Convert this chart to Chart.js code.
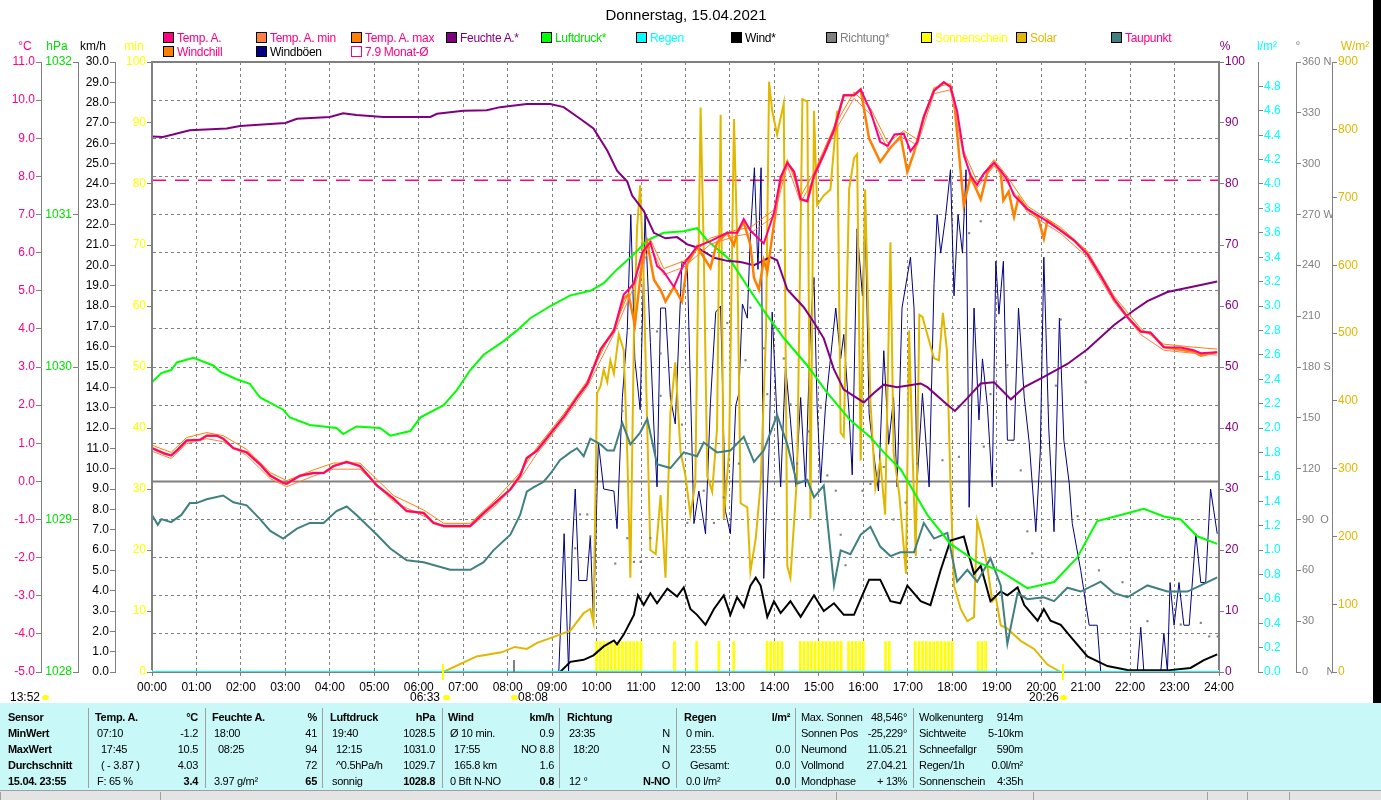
<!DOCTYPE html>
<html>
<head>
<meta charset="utf-8">
<script src="https://cdn.jsdelivr.net/npm/chart.js@4.4.1/dist/chart.umd.min.js"></script>
<style>
  body { margin: 0; width: 1381px; height: 800px; overflow: hidden; background: #fff;
         font-family: 'Liberation Sans', Arial, sans-serif; font-size: 11px; }
  #wrap { position: absolute; left: 0; top: 0; width: 1381px; height: 703px; }
  .t { position: absolute; white-space: nowrap; line-height: 14px; }
  #panel .t { letter-spacing: -0.3px; }
  .lg { position: absolute; white-space: nowrap; line-height: 12px; font-size: 12px; letter-spacing: -0.3px; }
  .lg i { display: inline-block; width: 9px; height: 9px; border: 1px solid #000; vertical-align: -1px; margin-right: 3px; }
  #panel { position: absolute; left: 0; top: 703px; width: 1381px; height: 87px; background: #c8f8f8; }
  #status { position: absolute; left: 0; top: 790px; width: 1381px; height: 10px; background: #e4e4e4; border-top: 1px solid #a0a0a0; }
  .sep { position: absolute; top: 5px; width: 1px; height: 80px; background: #a0a0a0; }
  .box { position: absolute; top: 1px; height: 9px; border-left: 1px solid #a0a0a0; }
  .sun { position: absolute; width: 7px; height: 5px; border-radius: 50%; background: #ffff00; }
  .mark { position: absolute; width: 2px; }
  #black { position: absolute; left: 1373px; top: 0; width: 8px; height: 703px; background: #000; }
</style>
</head>
<body>
<div id="wrap"><canvas id="c" width="1381" height="703"></canvas></div>
<div id="black"></div>
<div id="over"></div>
<div id="panel"></div>
<div id="status"></div>
<script>
// ---- data (hours as decimal) ----
const tempTime = [0, 0.28, 0.43, 0.56, 0.78, 1.08, 1.23, 1.46, 1.6, 1.83,
  2.13, 2.43, 2.66, 2.95, 3.03, 3.33, 3.63, 3.86, 4.08, 4.38,
  4.68, 5.06, 5.43, 5.73, 6.11, 6.33, 6.56, 7.16, 7.46, 7.76,
  8.06, 8.28, 8.43, 8.66, 8.96, 9.26, 9.56, 9.79, 10.09, 10.39,
  10.61, 10.84, 11.03, 11.21, 11.36, 11.51, 11.74, 11.96, 12.26, 12.56,
  12.94, 13.16, 13.31, 13.46, 13.76, 13.99, 14.14, 14.29, 14.44, 14.59,
  14.74, 14.89, 15.11, 15.34, 15.56, 15.79, 15.94, 16.16, 16.38, 16.55,
  16.7, 16.91, 17.06, 17.21, 17.36, 17.59, 17.81, 17.96, 18.11, 18.26,
  18.41, 18.56, 18.71, 18.94, 19.09, 19.24, 19.39, 19.69, 20.06, 20.44,
  20.74, 21.04, 21.34, 21.64, 21.94, 22.24, 22.46, 22.76, 23.14, 23.43,
  23.59, 23.96];
const tempVal = [0.87, 0.73, 0.68, 0.81, 1.07, 1.09, 1.2, 1.2, 1.12, 0.87,
  0.76, 0.45, 0.15, -0.04, -0.06, 0.15, 0.22, 0.22, 0.4, 0.51,
  0.4, -0.11, -0.45, -0.78, -0.83, -1.09, -1.17, -1.17, -0.83, -0.52,
  -0.21, 0.15, 0.61, 0.81, 1.25, 1.69, 2.2, 2.56, 3.46, 3.95,
  4.9, 5.19, 6.01, 6.27, 5.65, 5.5, 5.1, 5.7, 6.16, 6.3,
  6.52, 6.52, 6.88, 6.58, 6.24, 7.04, 7.97, 8.36, 8.12, 7.4,
  7.35, 8.02, 8.58, 9.22, 10.13, 10.13, 10.28, 9.71, 8.9, 8.8,
  9.1, 9.12, 8.66, 8.89, 9.56, 10.25, 10.47, 10.35, 9.71, 8.58,
  8.02, 7.78, 8.07, 8.36, 8.15, 7.91, 7.5, 7.14, 6.88, 6.58,
  6.32, 5.96, 5.39, 4.78, 4.31, 3.93, 3.9, 3.52, 3.51, 3.44,
  3.36, 3.39];

const minMaxTime = [0, 0.43, 0.78, 1.23, 1.6, 2.13, 2.66, 3.03, 3.63, 4.08,
  4.68, 5.43, 6.11, 6.56, 7.16, 7.76, 8.28, 8.66, 9.26, 9.79,
  10.39, 10.84, 11.21, 11.51, 11.96, 12.56, 13.16, 13.46, 13.99, 14.29,
  14.59, 14.89, 15.34, 15.79, 16.16, 16.55, 16.91, 17.21, 17.59, 17.96,
  18.26, 18.56, 18.94, 19.24, 19.69, 20.44, 21.04, 21.64, 22.24, 22.76,
  23.43, 23.96];
const tempMaxVal = [0.95, 0.76, 1.15, 1.28, 1.2, 0.84, 0.23, 0.02, 0.3, 0.48,
  0.48, -0.37, -0.75, -1.1, -1.1, -0.44, 0.23, 0.89, 1.77, 2.64,
  4.03, 5.27, 6.35, 5.58, 5.78, 6.38, 6.6, 6.66, 7.12, 8.44,
  7.48, 8.1, 9.3, 10.21, 9.79, 8.88, 9.2, 8.97, 10.33, 10.43,
  8.66, 7.86, 8.44, 7.99, 7.22, 6.66, 6.04, 4.86, 4.01, 3.6,
  3.52, 3.47];
const tempMinVal = [0.79, 0.6, 0.99, 1.12, 1.04, 0.68, 0.07, -0.14, 0.14, 0.32,
  0.32, -0.53, -0.91, -1.2, -1.2, -0.6, 0.07, 0.73, 1.61, 2.48,
  3.87, 5.11, 6.19, 5.42, 5.62, 6.22, 6.44, 6.5, 6.96, 8.28,
  7.32, 7.94, 9.14, 10.05, 9.63, 8.72, 9.04, 8.81, 10.17, 10.27,
  8.5, 7.7, 8.28, 7.83, 7.06, 6.5, 5.88, 4.7, 3.85, 3.44,
  3.36, 3.31];

const chillTime = [0, 0.28, 0.43, 0.56, 0.78, 1.08, 1.23, 1.46, 1.6, 1.83,
  2.13, 2.43, 2.66, 2.95, 3.03, 3.33, 3.63, 3.86, 4.08, 4.38,
  4.68, 5.06, 5.43, 5.73, 6.11, 6.33, 6.56, 7.16, 7.46, 7.76,
  8.06, 8.28, 8.43, 8.66, 8.96, 9.26, 9.56, 9.79, 10.09, 10.39,
  10.61, 10.72, 10.86, 11.03, 11.14, 11.29, 11.45, 11.55, 11.74, 11.92,
  12.04, 12.26, 12.56, 12.71, 12.94, 13.09, 13.16, 13.31, 13.46, 13.54,
  13.65, 13.76, 13.84, 13.95, 14.14, 14.29, 14.44, 14.59, 14.74, 14.89,
  15.11, 15.34, 15.56, 15.79, 15.94, 16.13, 16.38, 16.6, 16.84, 16.99,
  17.14, 17.36, 17.59, 17.81, 17.96, 18.04, 18.26, 18.41, 18.64, 18.79,
  18.94, 19.09, 19.15, 19.27, 19.39, 19.49, 19.69, 19.92, 20.06, 20.14,
  20.44, 20.74, 21.04, 21.34, 21.64, 21.94, 22.24, 22.46, 22.76, 23.14,
  23.43, 23.59, 23.96];
const chillVal = [0.87, 0.73, 0.68, 0.81, 1.07, 1.09, 1.2, 1.2, 1.12, 0.87,
  0.76, 0.45, 0.15, -0.04, -0.06, 0.15, 0.22, 0.22, 0.4, 0.51,
  0.4, -0.11, -0.45, -0.78, -0.83, -1.09, -1.17, -1.17, -0.83, -0.52,
  -0.21, 0.15, 0.61, 0.81, 1.25, 1.69, 2.2, 2.56, 3.46, 3.95,
  4.8, 4.9, 4.1, 5.8, 6.27, 5.29, 5.0, 4.72, 5.1, 4.72,
  5.7, 6.16, 5.6, 6.27, 6.52, 6.2, 6.52, 6.8, 6.2, 5.34,
  5.03, 5.8, 5.5, 6.42, 7.97, 8.36, 8.12, 7.4, 7.35, 8.02,
  8.58, 9.22, 10.13, 10.13, 10.28, 8.99, 8.38, 8.74, 9.05, 8.12,
  8.63, 9.56, 10.25, 10.47, 10.35, 10.0, 7.24, 8.0, 7.4, 8.1,
  8.36, 8.1, 7.37, 7.6, 6.94, 7.45, 7.14, 6.95, 6.37, 6.85,
  6.58, 6.32, 5.96, 5.39, 4.78, 4.31, 3.93, 3.9, 3.52, 3.45,
  3.4, 3.3, 3.39];

const dewTime = [0, 0.13, 0.21, 0.43, 0.66, 0.85, 1.0, 1.23, 1.6, 1.83,
  2.13, 2.43, 2.66, 2.95, 3.26, 3.55, 3.86, 4.15, 4.38, 4.6,
  5.06, 5.36, 5.73, 6.11, 6.41, 6.71, 7.16, 7.46, 7.68, 8.06,
  8.28, 8.43, 8.58, 8.81, 8.96, 9.18, 9.41, 9.56, 9.71, 9.86,
  10.09, 10.24, 10.39, 10.58, 10.76, 10.98, 11.14, 11.36, 11.66, 11.96,
  12.26, 12.41, 12.71, 13.01, 13.31, 13.54, 13.76, 14.06, 14.29, 14.51,
  14.74, 14.89, 15.11, 15.34, 15.49, 15.71, 15.94, 16.16, 16.38, 16.61,
  16.83, 17.14, 17.36, 17.59, 17.89, 18.11, 18.34, 18.56, 18.86, 19.09,
  19.24, 19.47, 19.69, 20.06, 20.29, 20.59, 20.89, 21.34, 21.64, 21.94,
  22.39, 22.84, 23.29, 23.59, 23.96];
const dewVal = [-0.88, -1.14, -0.99, -1.07, -0.88, -0.57, -0.57, -0.47, -0.37, -0.55,
  -0.63, -0.99, -1.3, -1.5, -1.24, -1.09, -1.09, -0.78, -0.66, -0.88,
  -1.4, -1.76, -2.07, -2.12, -2.22, -2.32, -2.32, -2.12, -1.81, -1.4,
  -0.88, -0.27, -0.16, -0.01, 0.2, 0.56, 0.76, 0.87, 0.66, 1.12,
  0.97, 0.81, 0.81, 1.53, 0.97, 1.28, 1.64, 0.45, 0.35, 0.76,
  0.66, 1.02, 0.76, 0.81, 1.17, 0.51, 0.81, 1.74, 0.97, -0.06,
  0.04, -0.42, -0.11, -2.73, -1.81, -1.91, -1.4, -1.19, -1.71, -1.96,
  -1.86, -1.86, -1.09, -1.5, -1.35, -2.63, -2.32, -2.63, -2.02, -2.73,
  -4.26, -2.93, -3.09, -3.04, -3.14, -2.79, -2.89, -2.63, -2.93, -3.04,
  -2.73, -2.89, -2.89, -2.73, -2.52];

const humTime = [0, 0.25, 0.85, 1.68, 1.98, 3.0, 3.26, 4.0, 4.3, 4.6,
  5.2, 6.26, 6.41, 7.0, 7.53, 7.83, 8.43, 8.96, 9.26, 9.63,
  9.93, 10.24, 10.46, 10.69, 10.8, 11.06, 11.29, 11.55, 11.81, 12.04,
  12.26, 12.64, 12.94, 13.24, 13.54, 13.91, 14.06, 14.29, 14.66, 14.89,
  15.11, 15.34, 15.56, 15.86, 16.01, 16.23, 16.46, 16.76, 17.29, 17.44,
  17.89, 18.06, 18.34, 18.64, 18.94, 19.32, 19.62, 20.06, 20.59, 21.04,
  21.64, 22.09, 22.39, 22.84, 23.43, 23.96];
const humVal = [87.8, 87.7, 88.8, 89.1, 89.5, 90.0, 90.7, 91.0, 91.6, 91.3,
  91.0, 91.0, 91.5, 92.0, 92.1, 92.6, 93.1, 93.1, 92.6, 90.7,
  89.1, 85.5, 82.2, 80.4, 78.1, 75.6, 72.0, 71.1, 71.3, 70.1,
  69.6, 67.9, 67.4, 67.2, 66.7, 68.0, 67.5, 62.7, 59.8, 57.3,
  54.7, 49.6, 46.3, 44.9, 44.2, 45.7, 47.1, 46.7, 47.3, 46.7,
  43.8, 42.8, 44.9, 47.3, 47.5, 44.7, 46.7, 48.4, 50.5, 52.9,
  56.9, 59.3, 60.8, 62.3, 63.2, 64.0];

const pressTime = [0, 0.21, 0.43, 0.56, 0.93, 1.38, 1.53, 1.9, 2.2, 2.43,
  2.95, 3.1, 3.55, 4.15, 4.3, 4.6, 5.13, 5.36, 5.81, 6.04,
  6.56, 6.86, 7.16, 7.46, 7.91, 8.21, 8.51, 8.96, 9.41, 9.86,
  10.16, 10.46, 10.84, 11.14, 11.51, 11.96, 12.26, 12.49, 13.01, 13.39,
  13.76, 14.21, 14.74, 15.19, 15.71, 16.16, 16.46, 16.84, 17.44, 17.96,
  18.56, 19.09, 19.69, 20.29, 20.81, 21.26, 21.79, 22.31, 22.76, 23.14,
  23.51, 23.96];
const pressVal = [1029.90, 1029.96, 1029.98, 1030.03, 1030.06, 1030.01, 1029.97, 1029.92, 1029.89, 1029.80,
  1029.72, 1029.67, 1029.62, 1029.60, 1029.56, 1029.61, 1029.60, 1029.55, 1029.58, 1029.67,
  1029.75, 1029.85, 1029.98, 1030.08, 1030.17, 1030.24, 1030.32, 1030.40, 1030.47, 1030.50,
  1030.55, 1030.64, 1030.74, 1030.83, 1030.88, 1030.89, 1030.91, 1030.83, 1030.70, 1030.53,
  1030.37, 1030.19, 1030.01, 1029.83, 1029.65, 1029.54, 1029.44, 1029.33, 1029.03, 1028.84,
  1028.72, 1028.66, 1028.55, 1028.59, 1028.75, 1028.99, 1029.03, 1029.07, 1029.02, 1029.00,
  1028.89, 1028.84];

const windTime = [9.18, 9.41, 9.71, 9.93, 10.16, 10.39, 10.46, 10.61, 10.84, 10.93,
  11.06, 11.21, 11.36, 11.59, 11.81, 11.96, 12.11, 12.26, 12.45, 12.64,
  12.86, 13.01, 13.16, 13.31, 13.46, 13.58, 13.69, 13.84, 13.99, 14.14,
  14.36, 14.59, 14.89, 15.11, 15.34, 15.56, 15.79, 15.94, 16.13, 16.38,
  16.61, 16.83, 16.99, 17.29, 17.51, 17.74, 17.96, 18.26, 18.49, 18.64,
  18.86, 19.09, 19.24, 19.47, 19.62, 19.92, 20.06, 20.21, 20.44, 20.66,
  21.04, 21.49, 21.94, 22.39, 22.84, 23.36, 23.66, 23.96];
const windVal = [0, 0.5, 0.6, 0.82, 1.26, 1.55, 1.36, 1.84, 2.81, 3.77,
  3.29, 3.87, 3.38, 4.1, 3.71, 4.16, 3.1, 2.81, 2.32, 3.1,
  3.77, 2.81, 3.68, 3.19, 4.25, 4.64, 4.25, 2.71, 3.48, 2.9,
  3.48, 2.71, 3.77, 3.0, 3.38, 2.81, 2.81, 3.58, 4.54, 4.54,
  3.48, 3.38, 4.25, 3.48, 3.29, 5.02, 6.47, 6.66, 4.83, 5.22,
  3.48, 3.96, 3.77, 4.16, 3.29, 2.52, 3.1, 2.52, 2.32, 1.74,
  0.77, 0.29, 0.1, 0.08, 0.08, 0.2, 0.58, 0.87];

const gustTime = [9.15, 9.27, 9.37, 9.45, 9.52, 9.6, 9.78, 9.86, 9.93, 10.04,
  10.16, 10.39, 10.46, 10.58, 10.69, 10.77, 10.86, 10.98, 11.09, 11.21,
  11.29, 11.36, 11.44, 11.55, 11.66, 11.77, 11.92, 12.04, 12.19, 12.3,
  12.45, 12.56, 12.68, 12.79, 12.9, 13.01, 13.13, 13.2, 13.28, 13.39,
  13.46, 13.55, 13.63, 13.7, 13.76, 13.88, 13.95, 14.06, 14.14, 14.25,
  14.36, 14.48, 14.59, 14.7, 14.81, 14.89, 14.96, 15.04, 15.15, 15.26,
  15.38, 15.49, 15.56, 15.68, 15.75, 15.86, 15.98, 16.04, 16.13, 16.23,
  16.34, 16.46, 16.57, 16.68, 16.76, 16.87, 17.06, 17.14, 17.21, 17.33,
  17.48, 17.59, 17.66, 17.74, 17.85, 17.96, 18.04, 18.13, 18.23, 18.31,
  18.38, 18.49, 18.6, 18.68, 18.79, 18.9, 18.98, 19.05, 19.15, 19.24,
  19.39, 19.49, 19.62, 19.73, 19.88, 19.98, 20.06, 20.17, 20.29, 20.41,
  20.51, 20.63, 20.7, 20.89, 21.08, 21.26, 21.34, 22.16, 22.24, 22.31,
  22.69, 22.76, 22.84, 22.9, 22.99, 23.1, 23.21, 23.33, 23.48, 23.59,
  23.7, 23.81, 23.96];
const gustVal = [0, 6.8, 0, 6.0, 9.0, 4.5, 4.5, 6.7, 2.4, 11.3,
  9.0, 8.9, 7.05, 13.5, 16.8, 22.5, 15.4, 12.9, 22.5, 16.2,
  12.0, 9.1, 17.9, 17.9, 13.5, 12.2, 20.2, 20.0, 7.3, 8.9,
  6.8, 13.2, 17.7, 18.0, 7.9, 6.8, 13.1, 13.7, 18.1, 17.4,
  21.5, 24.8, 19.8, 24.8, 4.6, 11.0, 17.7, 12.4, 9.1, 15.1,
  12.4, 9.1, 13.5, 9.1, 17.0, 19.4, 13.1, 9.3, 13.1, 15.4,
  17.9, 15.4, 16.6, 12.7, 9.7, 21.8, 18.5, 22.5, 12.7, 10.8,
  8.9, 15.8, 11.2, 13.5, 9.1, 17.9, 20.4, 17.9, 9.3, 13.7,
  9.1, 19.1, 22.5, 20.6, 22.4, 24.7, 18.5, 22.5, 20.6, 24.7,
  8.1, 17.9, 12.4, 15.4, 13.1, 9.1, 20.2, 17.6, 20.2, 11.4,
  11.4, 17.9, 13.5, 11.3, 6.9, 10.8, 20.4, 12.0, 6.9, 17.4,
  11.4, 9.3, 7.3, 5.0, 2.3, 2.3, 0, 0, 2.2, 0,
  0, 1.9, 0, 4.4, 2.3, 4.4, 2.3, 2.3, 6.8, 4.4,
  4.4, 9.0, 6.8];

const solarTime = [6.55, 7.3, 7.86, 8.16, 8.43, 8.66, 8.96, 9.41, 9.71, 9.86,
  9.93, 10.01, 10.09, 10.16, 10.24, 10.31, 10.39, 10.5, 10.61, 10.69,
  10.76, 10.84, 10.91, 10.98, 11.06, 11.14, 11.21, 11.33, 11.44, 11.55,
  11.66, 11.77, 11.89, 12.0, 12.11, 12.22, 12.34, 12.41, 12.49, 12.6,
  12.71, 12.79, 12.86, 12.98, 13.09, 13.16, 13.24, 13.39, 13.46, 13.58,
  13.69, 13.81, 13.88, 13.95, 14.06, 14.21, 14.29, 14.36, 14.51, 14.63,
  14.74, 14.81, 14.89, 14.96, 15.11, 15.26, 15.41, 15.49, 15.56, 15.68,
  15.79, 15.86, 15.94, 16.04, 16.16, 16.27, 16.38, 16.49, 16.61, 16.68,
  16.81, 16.96, 17.03, 17.11, 17.18, 17.26, 17.33, 17.44, 17.59, 17.7,
  17.79, 17.88, 17.96, 18.04, 18.19, 18.34, 18.49, 18.56, 18.68, 18.79,
  18.9, 18.98, 19.09, 19.24, 19.54, 19.84, 20.14, 20.44];
const solarVal = [0, 23, 29, 37, 34, 43, 50, 61, 87, 93,
  73, 411, 422, 446, 428, 460, 440, 498, 475, 324,
  139, 498, 654, 718, 579, 359, 180, 174, 261, 139,
  382, 457, 324, 289, 232, 278, 833, 625, 289, 266,
  359, 822, 226, 324, 816, 642, 249, 243, 148, 197,
  278, 498, 871, 828, 793, 839, 156, 139, 289, 845,
  842, 226, 828, 689, 703, 712, 828, 353, 347, 712,
  758, 764, 312, 712, 399, 272, 312, 232, 634, 324,
  261, 145, 504, 318, 171, 527, 524, 498, 463, 460,
  530, 475, 278, 127, 93, 75, 81, 223, 191, 156,
  104, 110, 69, 64, 46, 34, 11, 0];

const dirTime = [9.52, 9.63, 9.79, 9.86, 10.42, 10.58, 10.69, 10.84, 10.99, 11.21,
  11.36, 11.44, 11.44, 11.92, 12.04, 12.41, 12.64, 12.86, 12.94, 13.2,
  13.35, 13.46, 13.76, 13.84, 14.14, 14.21, 14.36, 14.51, 14.77, 14.89,
  15.04, 15.19, 15.38, 15.49, 15.6, 15.98, 16.16, 16.46, 16.68, 16.95,
  17.21, 17.51, 17.78, 18.15, 18.38, 18.64, 18.71, 18.86, 19.24, 19.54,
  19.69, 19.8, 19.99, 20.33, 20.44, 20.82, 21.0, 21.3, 21.83, 22.39,
  23.14, 23.59, 23.78, 23.97];
const dirVal = [73, 93, 93, 80, 64, 154, 79, 65, 65, 79,
  201, 188, 163, 146, 88, 107, 88, 103, 206, 123,
  184, 215, 191, 164, 249, 185, 158, 123, 142, 228,
  156, 116, 107, 81, 63, 107, 111, 121, 90, 100,
  123, 72, 125, 127, 259, 266, 133, 164, 181, 119,
  83, 70, 42, 169, 208, 92, 171, 60, 53, 30,
  28, 29, 21, 21];

const sunTimes = ['10:00', '10:05', '10:10', '10:15', '10:20', '10:25', '10:30', '10:35', '10:40', '10:45',
  '10:50', '10:55', '11:00', '11:45', '12:15', '12:45', '13:05', '13:50', '13:55', '14:00',
  '14:05', '14:10', '14:35', '14:40', '14:45', '14:50', '14:55', '15:00', '15:05', '15:10',
  '15:15', '15:20', '15:25', '15:30', '15:40', '15:45', '15:50', '15:55', '16:00', '16:30',
  '16:35', '17:10', '17:15', '17:20', '17:25', '17:30', '17:35', '17:40', '17:45', '17:50',
  '17:55', '18:00', '18:35', '18:40', '18:45'];
const sunMinutes = [5, 5, 5, 5, 5, 5, 5, 5, 5, 5,
  5, 5, 5, 5, 5, 5, 5, 5, 5, 5,
  5, 5, 5, 5, 5, 5, 5, 5, 5, 5,
  5, 5, 5, 5, 5, 5, 5, 5, 5, 5,
  5, 5, 5, 5, 5, 5, 5, 5, 5, 5,
  5, 5, 5, 5, 5];

const rainTime = [0, 24];
const rainVal = [0, 0];
const monthTime = [0, 24];
const monthVal = [7.9, 7.9];
const zeroTime = [0, 24];
const zeroVal = [0, 0];

const hourLabels = ['00:00', '01:00', '02:00', '03:00', '04:00', '05:00', '06:00', '07:00', '08:00', '09:00',
  '10:00', '11:00', '12:00', '13:00', '14:00', '15:00', '16:00', '17:00', '18:00', '19:00',
  '20:00', '21:00', '22:00', '23:00', '24:00'];
const degLabels = { 360: '360 N', 270: '270 W', 180: '180 S', 90: '90  O', 0: '0      N' };

// ---- helpers ----
const FONT = "'Liberation Sans', Arial, sans-serif";
const tickFont = { family: FONT, size: 12 };
const toH = s => { const [h, m] = s.split(':'); return +h + (+m) / 60; };
const pts = (xs, ys) => xs.map((x, i) => ({ x: x, y: ys[i] }));

function yAxis(pos, weight, width, min, max, step, color, fmt, size) {
  return {
    type: 'linear', position: pos, weight: weight, min: min, max: max,
    afterFit: s => { s.width = width; },
    grid: { drawOnChartArea: false, color: '#808080', tickColor: '#808080', tickLength: 5 },
    border: { color: '#808080', width: 1 },
    ticks: { stepSize: step, autoSkip: false, color: color, font: { family: FONT, size: size || 12 },
      padding: 1, callback: fmt }
  };
}

const line = (label, axis, xs, ys, color, width, order, extra) => Object.assign({
  label: label, yAxisID: axis, data: pts(xs, ys), borderColor: color, backgroundColor: color,
  borderWidth: width, pointRadius: 0, tension: 0, fill: false, order: order
}, extra || {});

const frame = {
  id: 'frame',
  afterDraw(chart) {
    const { ctx, chartArea: a } = chart;
    ctx.save();
    ctx.strokeStyle = '#808080';
    ctx.lineWidth = 2;
    ctx.beginPath();
    ctx.moveTo(a.left, a.bottom - 2);
    ctx.lineTo(a.left, a.top);
    ctx.lineTo(a.right, a.top);
    ctx.lineTo(a.right, a.bottom - 2);
    ctx.stroke();
    ctx.restore();
  }
};

const tempAxis = yAxis('left', 4, 41, -5, 11, 1, '#ff0080', v => v.toFixed(1));
tempAxis.grid.drawOnChartArea = true;
tempAxis.border.dash = [3, 3];

new Chart(document.getElementById('c'), {
  type: 'line',
  data: {
    datasets: [
      line('Regen', 'rain', rainTime, rainVal, '#00ffff', 2, 1),
      line('Temp. A.', 'temp', tempTime, tempVal, '#ff0080', 2, 2),
      line('Temp. A. max', 'temp', minMaxTime, tempMaxVal, '#ff8000', 1, 3),
      line('Temp. A. min', 'temp', minMaxTime, tempMinVal, '#ff8040', 1, 4),
      line('Windchill', 'temp', chillTime, chillVal, '#ff8000', 2.5, 5),
      line('Feuchte A.', 'pct', humTime, humVal, '#800080', 2, 6),
      line('Luftdruck', 'hpa', pressTime, pressVal, '#00ff00', 2, 7),
      line('Taupunkt', 'temp', dewTime, dewVal, '#408080', 2, 8),
      line('Wind', 'kmh', windTime, windVal, '#000000', 2, 9),
      line('Richtung', 'deg', dirTime, dirVal, '#808080', 0, 10,
        { showLine: false, pointRadius: 1.5, pointStyle: 'rect', pointBorderWidth: 0, pointBackgroundColor: '#808080' }),
      { type: 'bar', label: 'Sonnenschein', yAxisID: 'min', data: pts(sunTimes.map(toH), sunMinutes),
        backgroundColor: '#ffff00', barThickness: 2, order: 11 },
      line('Solar', 'solar', solarTime, solarVal, '#e0b800', 2, 12),
      line('Windböen', 'kmh', gustTime, gustVal, '#000080', 1, 13),
      line('Monat', 'temp', monthTime, monthVal, '#ff0080', 1.5, 14, { borderDash: [14, 9] }),
      line('0', 'temp', zeroTime, zeroVal, '#808080', 2, 15)
    ]
  },
  options: {
    responsive: false,
    animation: false,
    devicePixelRatio: 1,
    layout: { padding: { top: 62, bottom: 9, left: 0, right: 8 } },
    plugins: { legend: { display: false }, tooltip: { enabled: false }, title: { display: false } },
    scales: {
      x: {
        type: 'linear', min: 0, max: 24, offset: false,
        afterFit: s => { s.height = 22; },
        grid: { offset: false, color: '#808080', tickColor: '#808080', tickLength: 4 },
        border: { color: '#808080', dash: [3, 3] },
        ticks: { stepSize: 1, autoSkip: false, maxRotation: 0, color: '#000', font: tickFont, padding: 4,
          callback: v => hourLabels[v] }
      },
      temp: tempAxis,
      hpa: yAxis('left', 3, 37, 1028, 1032, 1, '#00e000', v => String(v)),
      kmh: yAxis('left', 2, 37, 0, 30, 1, '#000000', v => v.toFixed(1)),
      min: yAxis('left', 1, 37, 0, 100, 10, '#ffff00', v => String(v)),
      pct: yAxis('right', 1, 39, 0, 100, 10, '#800080', v => String(v)),
      rain: yAxis('right', 2, 38, 0, 5, 0.2, '#00ffff', v => (v > 4.9 ? null : v.toFixed(1))),
      deg: yAxis('right', 3, 36, 0, 360, 30, '#808080', v => degLabels[v] || String(v), 11),
      solar: yAxis('right', 4, 41, 0, 900, 100, '#e0b800', v => String(v))
    }
  },
  plugins: [frame]
});

// ---- texts around the chart ----
const over = document.getElementById('over');
function txt(parent, x, y, s, o) {
  o = o || {};
  const d = document.createElement('div');
  d.className = 't';
  d.textContent = s;
  d.style.left = x + 'px';
  d.style.top = (y - 7) + 'px';
  if (o.align === 'right') d.style.transform = 'translateX(-100%)';
  if (o.align === 'center') d.style.transform = 'translateX(-50%)';
  if (o.bold) d.style.fontWeight = 'bold';
  if (o.color) d.style.color = o.color;
  if (o.size) d.style.fontSize = o.size + 'px';
  parent.appendChild(d);
  return d;
}

txt(over, 686, 15, 'Donnerstag, 15.04.2021', { align: 'center', size: 15 });

const legendItems = [
  [163, 38, '#ff0080', 'Temp. A.', '#ff0080'],
  [256, 38, '#ff8040', 'Temp. A. min', '#ff0080'],
  [351, 38, '#ff8000', 'Temp. A. max', '#ff0080'],
  [446, 38, '#800080', 'Feuchte A.*', '#800080'],
  [541, 38, '#00ff00', 'Luftdruck*', '#00e000'],
  [636, 38, '#00ffff', 'Regen', '#00ffff'],
  [731, 38, '#000000', 'Wind*', '#000000'],
  [826, 38, '#808080', 'Richtung*', '#808080'],
  [921, 38, '#ffff00', 'Sonnenschein', '#ffff00'],
  [1016, 38, '#e0b800', 'Solar', '#e0b800'],
  [1111, 38, '#408080', 'Taupunkt', '#ff0080'],
  [163, 52, '#ff8000', 'Windchill', '#ff0080'],
  [256, 52, '#000080', 'Windböen', '#000000'],
  [351, 52, 'transparent', '7.9 Monat-Ø', '#ff0080']
];
legendItems.forEach(([x, y, box, label, color]) => {
  const d = document.createElement('div');
  d.className = 'lg';
  d.style.left = x + 'px';
  d.style.top = (y - 6) + 'px';
  d.style.color = color;
  const i = document.createElement('i');
  i.style.background = box;
  if (box === 'transparent') i.style.borderColor = '#ff0080';
  d.appendChild(i);
  d.appendChild(document.createTextNode(label));
  over.appendChild(d);
});

[[25, '°C', '#ff0080'], [57, 'hPa', '#00e000'], [93, 'km/h', '#000'], [134, 'min', '#ffff00'],
 [1225, '%', '#800080'], [1267, 'l/m²', '#00ffff'], [1298, '°', '#808080'], [1355, 'W/m²', '#e0b800']]
  .forEach(([x, s, c]) => txt(over, x, 46, s, { align: 'center', color: c, size: 12 }));

// sunrise / sunset notes under the time axis
txt(over, 10, 697, '13:52', { size: 12 });
txt(over, 410, 697, '06:33', { size: 12 });
txt(over, 518, 697, '08:08', { size: 12 });
txt(over, 1029, 697, '20:26', { size: 12 });
[[42, 695], [443, 695], [511, 695], [1060, 695]].forEach(([x, y]) => {
  const s = document.createElement('div'); s.className = 'sun';
  s.style.left = x + 'px'; s.style.top = y + 'px'; over.appendChild(s);
});
[[442, 664, 16, '#ffff00'], [1062, 664, 16, '#ffff00'], [513, 660, 12, '#808080']].forEach(([x, y, h, c]) => {
  const m = document.createElement('div'); m.className = 'mark';
  m.style.left = x + 'px'; m.style.top = y + 'px'; m.style.height = h + 'px'; m.style.background = c;
  over.appendChild(m);
});

// ---- summary table ----
const panel = document.getElementById('panel');
[88, 205, 322, 442, 559, 676, 795, 913].forEach(x => {
  const s = document.createElement('div'); s.className = 'sep'; s.style.left = x + 'px'; panel.appendChild(s);
});
const rows = [14, 30, 46, 62, 78];
['Sensor', 'MinWert', 'MaxWert', 'Durchschnitt', '15.04. 23:55']
  .forEach((s, i) => txt(panel, 8, rows[i], s, { bold: true }));

const cols = [
  { l: 95, r: 198, head: ['Temp. A.', '°C'], left: ['07:10', '17:45', '( - 3.87 )', 'F: 65 %'], right: ['-1.2', '10.5', '4.03', '3.4'] },
  { l: 212, r: 317, head: ['Feuchte A.', '%'], left: ['18:00', '08:25', '', '3.97 g/m²'], right: ['41', '94', '72', '65'] },
  { l: 330, r: 435, head: ['Luftdruck', 'hPa'], left: ['19:40', '12:15', '^0.5hPa/h', 'sonnig'], right: ['1028.5', '1031.0', '1029.7', '1028.8'] },
  { l: 448, r: 554, head: ['Wind', 'km/h'], left: ['Ø 10 min.', '17:55', '165.8 km', '0 Bft N-NO'], right: ['0.9', 'NO 8.8', '1.6', '0.8'] },
  { l: 567, r: 670, head: ['Richtung', ''], left: ['23:35', '18:20', '', '12 °'], right: ['N', 'N', 'O', 'N-NO'] },
  { l: 684, r: 790, head: ['Regen', 'l/m²'], left: ['0 min.', '23:55', 'Gesamt:', '0.0 l/m²'], right: ['', '0.0', '0.0', '0.0'] }
];
cols.forEach(c => {
  txt(panel, c.l, rows[0], c.head[0], { bold: true });
  txt(panel, c.r, rows[0], c.head[1], { bold: true, align: 'right' });
  c.left.forEach((s, i) => txt(panel, c.l + (i === 3 || i === 0 ? 2 : 6), rows[i + 1], s));
  c.right.forEach((s, i) => txt(panel, c.r, rows[i + 1], s, { align: 'right', bold: i === 3 }));
});

const astroL = ['Max. Sonnen', 'Sonnen Pos', 'Neumond', 'Vollmond', 'Mondphase'];
const astroR = ['48,546°', '-25,229°', '11.05.21', '27.04.21', '+ 13%'];
const metL = ['Wolkenunterg', 'Sichtweite', 'Schneefallgr', 'Regen/1h', 'Sonnenschein'];
const metR = ['914m', '5-10km', '590m', '0.0l/m²', '4:35h'];
rows.forEach((y, i) => {
  txt(panel, 801, y, astroL[i]);
  txt(panel, 907, y, astroR[i], { align: 'right' });
  txt(panel, 919, y, metL[i]);
  txt(panel, 1023, y, metR[i], { align: 'right' });
});

const status = document.getElementById('status');
[0, 160, 836, 1033, 1207, 1247, 1289].forEach(x => {
  const b = document.createElement('div'); b.className = 'box'; b.style.left = x + 'px'; status.appendChild(b);
});
</script>
</body>
</html>
